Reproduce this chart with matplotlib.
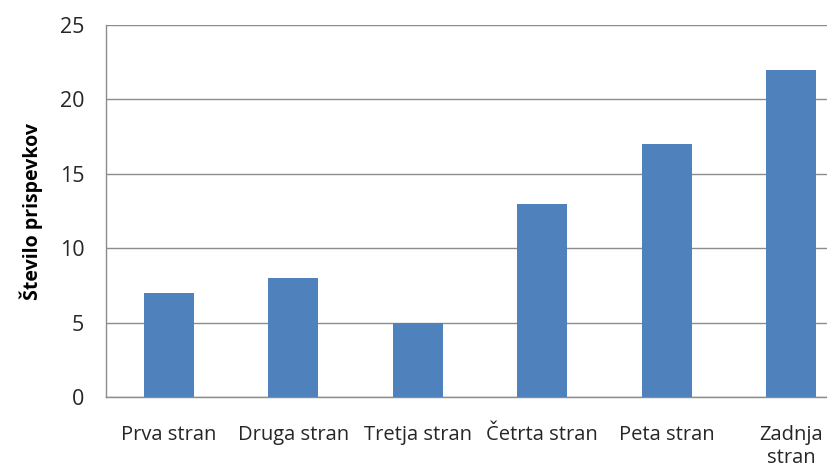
import matplotlib
matplotlib.use("Agg")
import matplotlib.pyplot as plt

categories = ["Prva stran", "Druga stran", "Tretja stran", "Četrta stran", "Peta stran", "Zadnja\nstran"]
values = [7, 8, 5, 13, 17, 22]
yticks = [0, 5, 10, 15, 20, 25]
ylabel = "Število prispevkov"

plt.rcParams['font.family'] = ['Open Sans', 'DejaVu Sans']

fig = plt.figure(figsize=(8.28, 4.70), dpi=100)
ax = fig.add_axes([106.5/828, 73/470, 747/828, 372/470])

x = list(range(len(categories)))
ax.bar(x, values, width=0.4, color="#4F81BD", zorder=3)
ax.set_xlim(-0.5, len(categories) - 0.5)
ax.set_ylim(0, 25)
ax.set_yticks(yticks)
ax.set_yticklabels([str(t) for t in yticks], fontsize=15.5, color="#262626")
ax.set_xticks(x)
ax.set_xticklabels(categories, fontsize=14.5, color="#262626", linespacing=1.2, va="top")
ax.tick_params(axis='y', length=0, pad=16)
ax.tick_params(axis='x', length=0, pad=20)
ax.grid(axis='y', color="#8C8C8C", linewidth=1.0, zorder=0)
for s in ['top', 'right']:
    ax.spines[s].set_visible(False)
for s in ['left', 'bottom']:
    ax.spines[s].set_color("#8C8C8C")
    ax.spines[s].set_linewidth(1.0)
ax.set_ylabel(ylabel, fontsize=14, fontweight='bold', color="#000000", labelpad=12)

fig.savefig("out.png", dpi=100)
